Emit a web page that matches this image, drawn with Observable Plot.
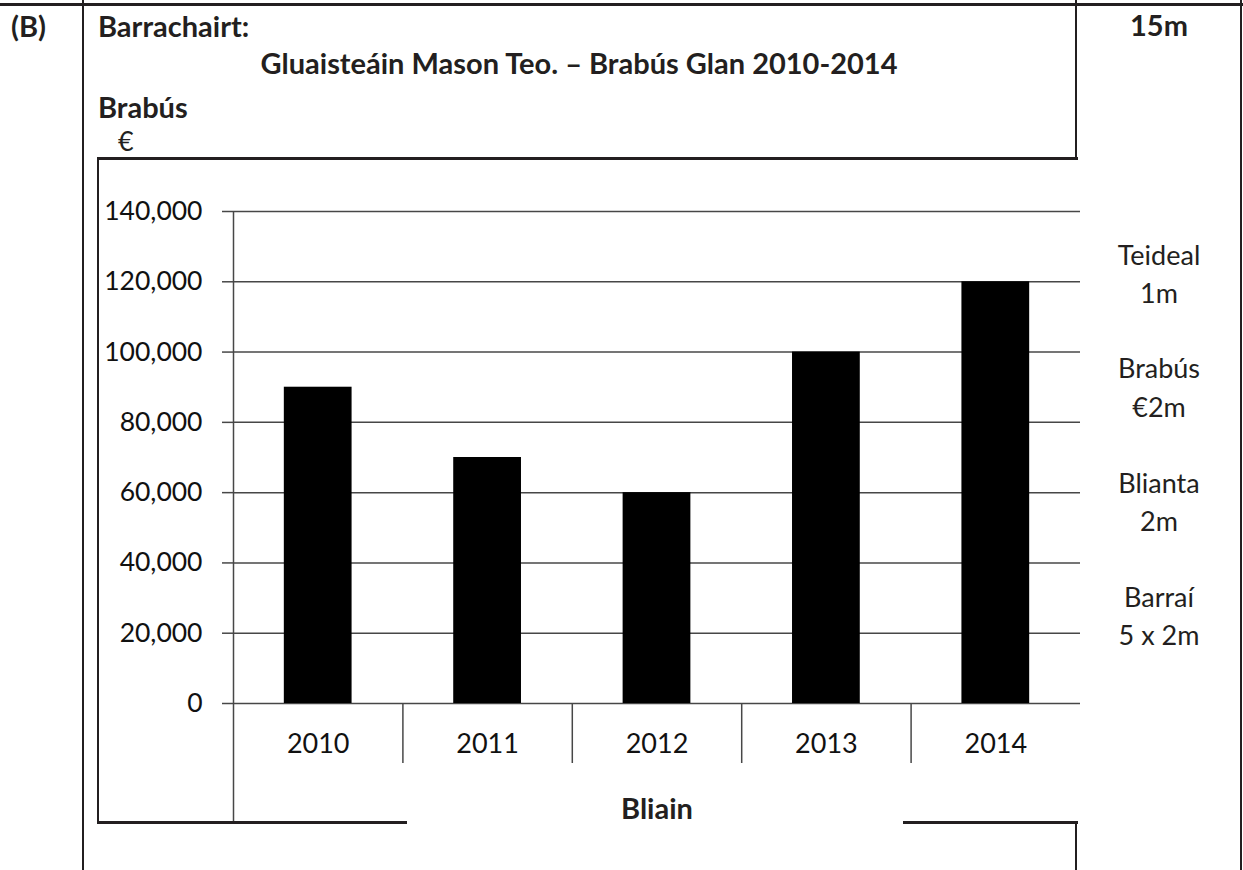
<!DOCTYPE html>
<html><head><meta charset="utf-8">
<script src="https://cdn.jsdelivr.net/npm/d3@7"></script>
<script src="https://cdn.jsdelivr.net/npm/@observablehq/plot@0.6"></script>
<style>
html,body{margin:0;padding:0;background:#fff;}
#page{position:relative;width:1243px;height:870px;overflow:hidden;background:#fff;font-family:Lato,"Open Sans",sans-serif;color:#231f20;}
#page svg{position:absolute;left:0;top:0;}
.t{position:absolute;white-space:nowrap;line-height:1;}
.ln{position:absolute;background:#231f20;}
</style></head><body><div id="page"></div>
<script>
// ---- data ----
const years = ["2010", "2011", "2012", "2013", "2014"];
const profit = [90000, 70000, 60000, 100000, 120000];
const yTicks = [0, 20000, 40000, 60000, 80000, 100000, 120000, 140000];
const sectionLabel = "(B)";
const heading = "Barrachairt:";
const chartTitle = "Gluaisteáin Mason Teo. – Brabús Glan 2010-2014";
const yAxisTitle = "Brabús";
const yUnit = "€";
const xAxisTitle = "Bliain";
const totalMarks = "15m";
const markNotes = ["Teideal", "1m", "Brabús", "€2m", "Blianta", "2m", "Barraí", "5 x 2m"];

// ---- chart ----
const W = 1243, H = 870, mL = 233, mR = 163, mT = 211, mB = 167;
const step = (W - mL - mR) / years.length;
const table = years.map((year, i) => ({year, value: profit[i]}));
const grid = "#474747";

const chart = Plot.plot({
  width: W, height: H,
  marginLeft: mL, marginRight: mR, marginTop: mT, marginBottom: mB,
  style: {background: "transparent", fontFamily: "Lato, 'Open Sans', sans-serif", color: "#000"},
  x: {type: "band", domain: years, paddingInner: 0.6, paddingOuter: 0.3, round: false, label: null},
  y: {domain: [0, 140000], label: null},
  marks: [
    Plot.gridY(yTicks, {stroke: grid, strokeOpacity: 1, strokeWidth: 1.5}),
    Plot.barY(table, {x: "year", y: "value", fill: "#000"}),
    Plot.ruleX([years[0]], {dx: -step / 2, stroke: grid, strokeWidth: 1.5}),
    Plot.axisY(yTicks, {tickSize: 11, tickPadding: 20, fontSize: 26.5, tickFormat: d3.format(","), stroke: grid, strokeWidth: 1.5, fill: "#111", label: null}),
    Plot.axisX([years[0]], {dx: -step / 2, tickSize: 119, tickFormat: () => "", stroke: grid, strokeWidth: 1.5, label: null}),
    Plot.axisX(years.slice(1), {dx: -step / 2, tickSize: 60, tickFormat: () => "", stroke: grid, strokeWidth: 1.5, label: null}),
    Plot.axisX(years, {tickSize: 0, tickPadding: 30, fontSize: 27, fill: "#111", label: null}),
    Plot.text([xAxisTitle], {frameAnchor: "bottom", dy: 115, fontWeight: "bold", fontSize: 29, fill: "#231f20"})
  ]
});
const page = document.getElementById("page");
page.appendChild(chart);

// ---- document layout (table borders and text) ----
function line(x, y, w, h) {
  const d = document.createElement("div");
  d.className = "ln";
  Object.assign(d.style, {left: x + "px", top: y + "px", width: w + "px", height: h + "px"});
  page.appendChild(d);
}
function label(txt, x, baseline, {size = 29, bold = false, align = "left"} = {}) {
  const d = document.createElement("div");
  d.className = "t";
  d.textContent = txt;
  d.style.fontSize = size + "px";
  d.style.fontWeight = bold ? "700" : "400";
  d.style.top = (baseline - 0.887 * size) + "px";
  if (align === "center") { d.style.left = x + "px"; d.style.transform = "translateX(-50%)"; }
  else d.style.left = x + "px";
  page.appendChild(d);
}
line(0, 3, 1243, 3);        // top rule
line(82, 0, 2, 870);        // left column rule
line(1240, 0, 2, 870);      // right rule
line(1075, 0, 2, 158);      // marks column (upper)
line(97, 157, 981, 3);      // chart box top
line(97, 157, 2, 666);      // chart box left
line(97, 821, 310, 3);      // chart box bottom, left part
line(903, 821, 175, 3);     // chart box bottom, right part
line(1075, 821, 2, 49);     // marks column (lower)

label(sectionLabel, 11, 37, {bold: true});
label(heading, 98, 37, {bold: true});
label(chartTitle, 579, 74, {bold: true, align: "center"});
label(yAxisTitle, 98, 118, {bold: true});
label(yUnit, 118, 151, {size: 27});
label(totalMarks, 1159, 36, {bold: true, align: "center"});
const noteY = [255, 293, 368, 407, 483, 521, 597, 635];
markNotes.forEach((n, i) => label(n, 1159, noteY[i] + 9.5, {size: 27, align: "center"}));
</script>
</body></html>
